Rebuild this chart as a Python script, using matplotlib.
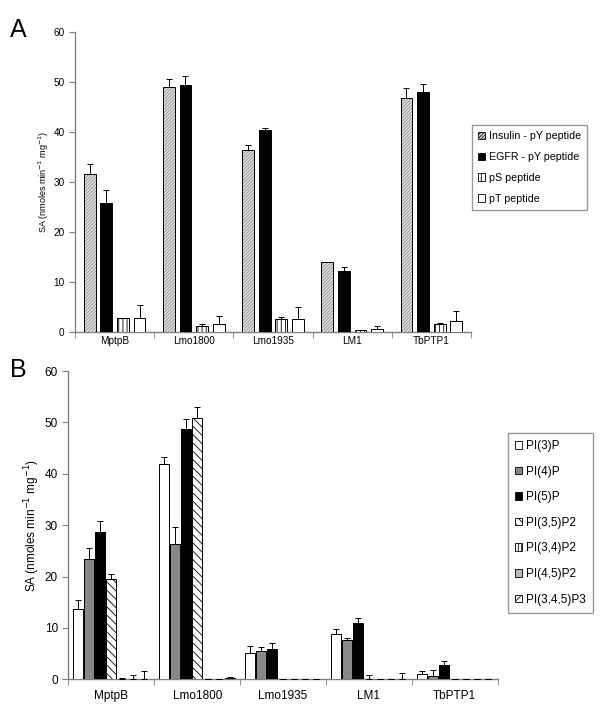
import numpy as np
import matplotlib
matplotlib.use('Agg')
import matplotlib.pyplot as plt

plt.rcParams['font.family'] = ['Liberation Sans', 'DejaVu Sans']
plt.rcParams['hatch.linewidth'] = 0.6

groups = ['MptpB', 'Lmo1800', 'Lmo1935', 'LM1', 'TbPTP1']

# panel A: peptide substrates
pep_names = ['Insulin - pY peptide', 'EGFR - pY peptide', 'pS peptide', 'pT peptide']
insulin = [31.6, 49.0, 36.4, 13.9, 46.7]
insulin_err = [1.9, 1.6, 1.0, 0.1, 2.0]
egfr = [25.7, 49.4, 40.4, 12.2, 48.0]
egfr_err = [2.6, 1.8, 0.4, 0.8, 1.5]
ps = [2.8, 1.2, 2.5, 0.3, 1.6]
ps_err = [0.0, 0.4, 0.5, 0.1, 0.1]
pt = [2.7, 1.6, 2.5, 0.6, 2.1]
pt_err = [2.7, 1.6, 2.5, 0.6, 2.0]

# panel B: phosphoinositides
pi_names = ['PI(3)P', 'PI(4)P', 'PI(5)P', 'PI(3,5)P2', 'PI(3,4)P2', 'PI(4,5)P2', 'PI(3,4,5)P3']
pi3p = [13.6, 42.0, 5.1, 8.9, 1.0]
pi3p_err = [1.8, 1.3, 1.4, 0.8, 0.6]
pi4p = [23.5, 26.3, 5.5, 7.6, 0.7]
pi4p_err = [2.0, 3.4, 0.7, 0.4, 1.2]
pi5p = [28.6, 48.7, 5.9, 11.0, 2.8]
pi5p_err = [2.3, 1.9, 1.1, 0.9, 0.8]
pi35p2 = [19.6, 50.9, 0.1, 0.1, 0.1]
pi35p2_err = [0.9, 2.1, 0.0, 0.7, 0.0]
pi34p2 = [0.1, 0.1, 0.1, 0.1, 0.1]
pi34p2_err = [0.1, 0.0, 0.0, 0.0, 0.0]
pi45p2 = [0.1, 0.1, 0.1, 0.1, 0.1]
pi45p2_err = [0.7, 0.0, 0.0, 0.0, 0.0]
pi345p3 = [0.1, 0.2, 0.1, 0.1, 0.1]
pi345p3_err = [1.5, 0.2, 0.0, 1.1, 0.0]

AX_GREY = '#808080'
YLABEL = 'SA (nmoles min$^{-1}$ mg$^{-1}$)'


def style_axes(ax, fs, xpad):
    ax.set_xlim(0, len(groups))
    ax.set_ylim(0, 60)
    ax.set_yticks(range(0, 61, 10))
    for s in ['top', 'right']:
        ax.spines[s].set_visible(False)
    for s in ['left', 'bottom']:
        ax.spines[s].set_color(AX_GREY)
        ax.spines[s].set_linewidth(1.0)
    ax.set_xticks(np.arange(len(groups)) + 0.5)
    ax.set_xticklabels(groups, fontsize=fs)
    ax.set_xticks(np.arange(len(groups) + 1), minor=True)
    ax.tick_params(axis='x', which='major', length=0, pad=xpad)
    ax.tick_params(axis='x', which='minor', length=4, color=AX_GREY, direction='out')
    ax.tick_params(axis='y', length=4, color=AX_GREY, labelsize=fs, direction='out')


def draw_bars(ax, series, errs, styles, slot, width):
    n = len(series)
    x = np.arange(len(groups)) + 0.5
    for i, (vals, err, st) in enumerate(zip(series, errs, styles)):
        pos = x + (i - (n - 1) / 2) * slot
        fc, hatch, hc = st
        up = np.array(err)
        # fill + hatch (hatch colour comes from edgecolor), then black outline
        ax.bar(pos, vals, width, color=fc, hatch=hatch, edgecolor=hc, linewidth=0, zorder=3)
        ax.bar(pos, vals, width, fill=False, edgecolor='black', linewidth=0.7, zorder=3,
               yerr=[np.zeros_like(up), up],
               error_kw=dict(ecolor='black', elinewidth=0.7, capsize=2, capthick=0.7,
                             zorder=3))


def make_handles(styles):
    return [plt.Rectangle((0, 0), 1, 1, fc=fc, hatch=h, ec='black', lw=0.6)
            for fc, h, hc in styles]


fig = plt.figure(figsize=(6, 7.21), dpi=100)

# ---- panel A
axA = fig.add_axes([0.125, 0.540, 0.660, 0.416])
stylesA = [('#e4e4e4', '//////////', '#8a8a8a'), ('black', None, 'black'),
           ('white', '||||', 'black'), ('white', None, 'black')]
draw_bars(axA, [insulin, egfr, ps, pt], [insulin_err, egfr_err, ps_err, pt_err],
          stylesA, slot=0.21, width=0.15)
style_axes(axA, 7.2, 3)
axA.set_ylabel(YLABEL, fontsize=6.5, labelpad=2)
fig.legend(make_handles(stylesA), pep_names, loc='upper left',
           bbox_to_anchor=(471.5 / 600, 1 - 125 / 721), borderaxespad=0,
           fontsize=7.7, frameon=True, fancybox=False, edgecolor=AX_GREY,
           handlelength=0.7, handleheight=0.7, handletextpad=0.3, labelspacing=1.0,
           borderpad=0.6)
fig.text(0.017, 0.958, 'A', fontsize=18, ha='left', va='center')

# ---- panel B
axB = fig.add_axes([0.114, 0.0578, 0.7155, 0.4276])
stylesB = [('white', None, 'black'), ('#888888', None, 'black'), ('black', None, 'black'),
           ('white', '\\\\\\\\', 'black'), ('white', '|||||', 'black'),
           ('#bbbbbb', None, 'black'), ('white', '////', 'black')]
draw_bars(axB, [pi3p, pi4p, pi5p, pi35p2, pi34p2, pi45p2, pi345p3],
          [pi3p_err, pi4p_err, pi5p_err, pi35p2_err, pi34p2_err, pi45p2_err, pi345p3_err],
          stylesB, slot=0.128, width=0.115)
style_axes(axB, 8.5, 8)
axB.set_ylabel(YLABEL, fontsize=8.5, labelpad=2)
fig.legend(make_handles(stylesB), pi_names, loc='upper left',
           bbox_to_anchor=(508 / 600, 1 - 433 / 721), borderaxespad=0,
           fontsize=8.5, frameon=True, fancybox=False, edgecolor=AX_GREY,
           handlelength=0.6, handleheight=0.6, handletextpad=0.35, labelspacing=1.15,
           borderpad=0.6)
fig.text(0.017, 0.487, 'B', fontsize=18, ha='left', va='center')

fig.savefig('out.png', dpi=100, facecolor='white')
